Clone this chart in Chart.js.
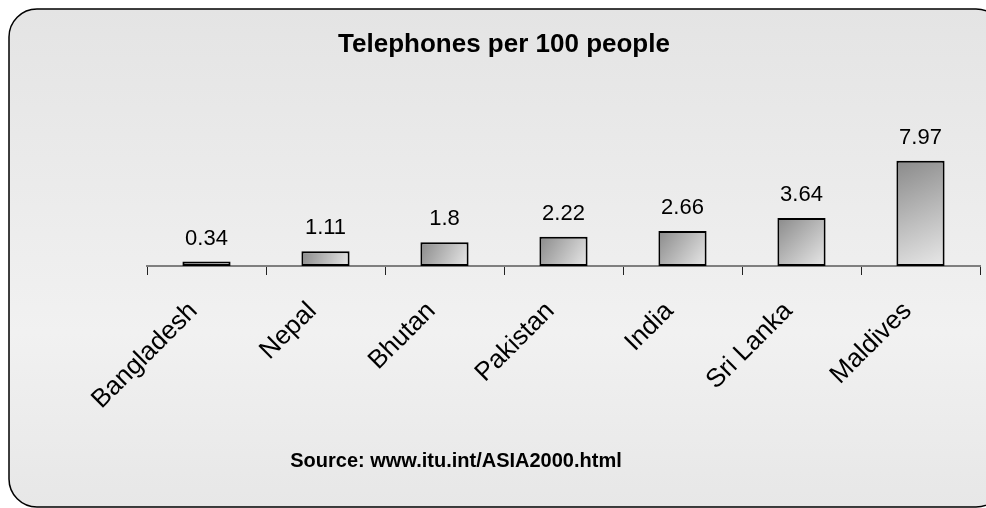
<!DOCTYPE html>
<html>
<head>
<meta charset="utf-8">
<script src="https://cdn.jsdelivr.net/npm/chart.js@4.4.0/dist/chart.umd.min.js"></script>
<style>
  html, body { margin: 0; padding: 0; background: #ffffff; }
  #wrap { width: 986px; height: 508px; }
</style>
</head>
<body>
<div id="wrap"><canvas id="barChart" width="986" height="508"></canvas></div>
<script>
// 图表数据
const countries = ["Bangladesh", "Nepal", "Bhutan", "Pakistan", "India", "Sri Lanka", "Maldives"];
const phonesPer100 = [0.34, 1.11, 1.8, 2.22, 2.66, 3.64, 7.97];
const valueLabels = ["0.34", "1.11", "1.8", "2.22", "2.66", "3.64", "7.97"];
const chartTitle = "Telephones per 100 people";
const sourceNote = "Source: www.itu.int/ASIA2000.html";

const FONT = "'Liberation Sans', Arial, sans-serif";

// 圆角背景框
const framePlugin = {
  id: "frame",
  beforeDraw(chart) {
    const ctx = chart.ctx;
    const x = 9, y = 9, w = 995, h = 498, r = 28;
    const grad = ctx.createLinearGradient(0, y, 0, y + h);
    grad.addColorStop(0, "#e4e4e4");
    grad.addColorStop(0.65, "#f1f1f1");
    grad.addColorStop(1, "#e7e7e7");
    ctx.save();
    ctx.beginPath();
    ctx.roundRect(x, y, w, h, r);
    ctx.fillStyle = grad;
    ctx.fill();
    ctx.lineWidth = 1.5;
    ctx.strokeStyle = "#000000";
    ctx.stroke();
    ctx.restore();
  },
};

// 标题、来源和数值标签
const textPlugin = {
  id: "texts",
  afterDatasetsDraw(chart) {
    const ctx = chart.ctx;
    ctx.save();
    ctx.fillStyle = "#000000";
    ctx.textAlign = "center";
    ctx.textBaseline = "alphabetic";
    ctx.font = "bold 26px " + FONT;
    ctx.fillText(chartTitle, 504, 52);
    ctx.font = "bold 20px " + FONT;
    ctx.fillText(sourceNote, 456, 467);

    ctx.font = "22px " + FONT;
    chart.getDatasetMeta(0).data.forEach((bar, i) => {
      ctx.fillText(valueLabels[i], bar.x, bar.y - 17);
    });
    ctx.restore();
  },
};

function barGradient(context) {
  const chart = context.chart;
  if (!chart.chartArea || context.dataIndex === undefined) return "#b0b0b0";
  const xs = chart.scales.x, ys = chart.scales.y;
  const cx = xs.getPixelForValue(context.dataIndex);
  const top = ys.getPixelForValue(phonesPer100[context.dataIndex]);
  const bottom = ys.getPixelForValue(0);
  const half = 24;
  const g = chart.ctx.createLinearGradient(cx - half, top, cx + half, bottom);
  g.addColorStop(0, "#8a8a8a");
  g.addColorStop(1, "#e8e8e8");
  return g;
}

new Chart(document.getElementById("barChart").getContext("2d"), {
  type: "bar",
  data: {
    labels: countries,
    datasets: [
      {
        data: phonesPer100,
        backgroundColor: barGradient,
        borderColor: "#000000",
        borderWidth: 2,
        borderSkipped: false,
        barPercentage: 0.405,
        categoryPercentage: 1,
      },
    ],
  },
  options: {
    responsive: false,
    animation: false,
    devicePixelRatio: 1,
    layout: { padding: { left: 147, right: 6, top: 134, bottom: 0 } },
    plugins: {
      legend: { display: false },
      title: { display: false },
      tooltip: { enabled: false },
    },
    scales: {
      x: {
        afterFit(scale) {
          scale.height = 242; // 让 x 轴线落在 y=266
        },
        grid: {
          offset: true,
          drawOnChartArea: false,
          drawTicks: true,
          tickLength: 9,
          color: "#222222",
          lineWidth: 1,
        },
        border: { display: true, color: "#7f7f7f", width: 2 },
        ticks: {
          autoSkip: false,
          minRotation: 45,
          maxRotation: 45,
          padding: 21,
          labelOffset: -13,
          color: "#000000",
          font: { family: FONT, size: 26 },
        },
      },
      y: {
        display: false,
        min: 0,
        max: 10,
      },
    },
  },
  plugins: [framePlugin, textPlugin],
});
</script>
</body>
</html>
